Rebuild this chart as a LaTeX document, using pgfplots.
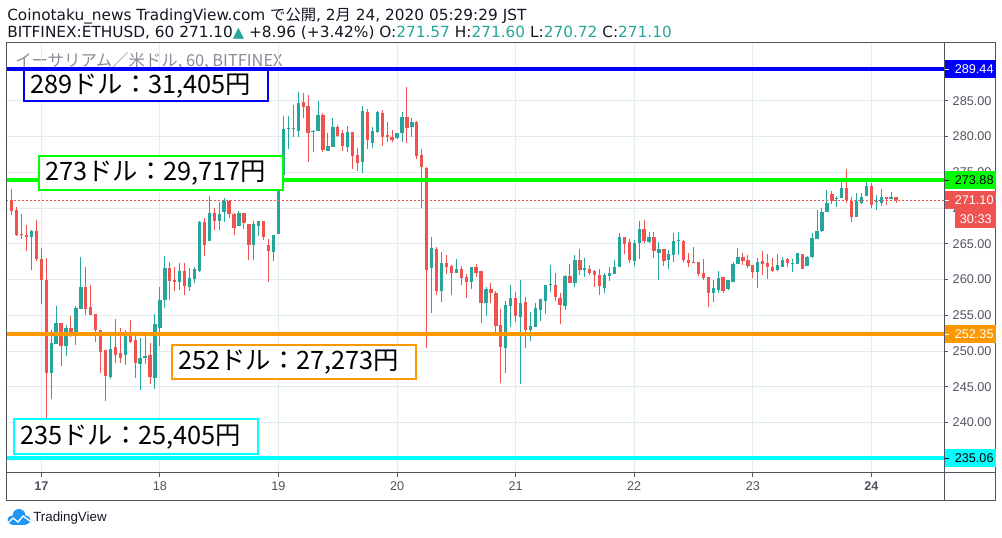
\documentclass[border=0pt]{standalone}
\usepackage{fontspec}
\usepackage{pgfplots}
\usepackage{pgfplotstable}
\pgfplotsset{compat=1.18}
\setmainfont{Liberation Sans}
\newfontfamily\cjk{Noto Sans CJK JP}
\newfontfamily\dejavu{DejaVu Sans}
\definecolor{upc}{HTML}{26A69A}
\definecolor{dnc}{HTML}{EF5350}
\definecolor{gridc}{HTML}{E1ECF2}
\definecolor{framec}{HTML}{50535E}
\definecolor{txtc}{HTML}{50535E}
\definecolor{headc}{HTML}{131722}
\definecolor{lblue}{HTML}{0000FF}
\definecolor{lgreen}{HTML}{00FF00}
\definecolor{lorange}{HTML}{FF9800}
\definecolor{lcyan}{HTML}{00FFFF}
\definecolor{tvblue}{HTML}{2196F3}
\definecolor{wmc}{HTML}{8A8D96}

\pgfplotstableread{
t o h l c
-2 265.91 266.98 261.30 266.84
2 246.89 253.00 243.26 251.07
3 250.93 256.24 250.93 253.86
5 250.70 253.63 249.31 253.17
7 252.33 256.28 250.84 255.96
8 255.91 263.16 255.91 259.03
14 246.38 252.33 246.15 250.33
17 249.45 253.00 248.05 252.56
20 248.19 251.86 244.56 249.07
21 248.98 252.19 248.14 249.26
23 246.19 255.12 244.66 253.72
24 253.21 258.98 250.70 257.21
25 257.12 263.35 256.00 261.68
28 259.72 262.37 258.55 261.21
30 258.93 261.58 258.46 260.18
31 260.04 261.72 259.58 261.49
32 261.26 268.24 261.00 268.10
34 265.40 271.69 265.40 269.27
36 268.24 270.90 266.94 269.18
37 269.41 271.37 268.10 271.04
40 267.55 269.60 267.55 269.36
43 264.84 268.24 262.75 267.78
44 267.55 268.24 266.10 268.20
47 263.82 266.24 262.65 266.24
48 266.33 276.26 266.33 274.63
49 274.63 282.88 274.50 281.06
50 281.10 282.88 278.20 281.20
51 281.00 284.40 279.90 281.10
52 280.83 286.19 279.90 284.65
55 280.60 280.92 277.90 280.70
56 280.83 284.97 280.83 283.02
58 278.00 280.55 278.00 278.68
59 278.59 282.55 278.59 281.29
62 278.59 281.48 277.90 280.69
65 276.49 284.28 274.96 283.58
67 279.15 281.38 278.36 280.83
68 280.69 283.58 280.46 283.44
72 279.76 280.55 279.62 280.46
73 280.46 283.48 279.29 282.69
75 281.29 282.55 279.99 281.99
79 261.58 266.01 255.38 264.38
81 258.45 263.91 256.92 262.37
84 260.98 262.88 260.97 261.50
87 259.71 261.81 258.69 261.72
90 256.78 258.92 254.91 258.69
94 250.49 257.01 246.99 256.45
95 256.31 259.25 253.42 257.38
97 254.82 259.95 245.36 256.68
99 252.96 255.43 251.46 253.52
100 253.42 256.68 253.42 255.98
101 255.75 257.29 254.26 257.29
102 257.06 259.25 255.19 259.25
103 259.25 262.04 258.31 259.39
106 256.31 260.65 255.75 260.51
108 259.57 263.44 258.92 262.74
110 261.35 262.97 260.41 261.58
114 258.88 260.97 258.17 260.65
115 260.51 261.81 259.85 260.97
116 260.79 262.74 260.79 261.81
117 261.81 266.47 261.81 266.00
120 262.65 265.54 261.95 265.17
121 265.07 268.20 262.88 267.08
123 265.31 266.61 265.17 266.00
125 263.77 265.21 259.95 264.23
127 262.74 264.14 261.49 263.58
128 263.44 266.56 262.51 265.40
129 265.45 266.61 263.44 265.54
136 258.17 259.95 256.92 258.78
137 258.55 261.20 258.17 260.18
139 258.64 259.95 258.55 259.95
140 259.72 262.51 259.72 262.18
141 262.18 264.37 262.18 263.21
145 261.11 262.97 258.87 262.46
149 261.40 263.58 261.25 262.00
150 261.81 263.21 261.72 262.74
152 262.18 262.83 261.02 262.32
153 262.18 263.68 262.18 263.68
155 261.90 263.30 261.90 263.21
156 263.12 266.47 262.97 265.77
157 265.68 269.73 265.68 266.84
158 266.84 269.97 266.70 269.50
159 269.50 272.53 269.50 270.76
161 271.30 271.69 270.20 271.40
162 271.36 274.02 271.36 272.76
165 268.80 272.15 268.80 271.04
166 270.76 272.15 270.52 271.60
167 271.69 273.69 271.69 273.09
169 270.80 271.83 269.73 270.90
170 270.76 272.62 270.34 271.50
172 271.32 272.20 271.22 271.50
}\uptable

\pgfplotstableread{
t o h l c
-6 271.07 272.70 268.98 269.53
-5 269.77 270.14 266.10 266.19
-4 266.42 269.21 265.72 266.19
-3 266.28 267.68 263.95 265.91
-1 266.84 268.37 262.56 262.93
0 262.93 264.42 256.65 259.91
1 259.91 263.02 240.40 246.89
4 253.86 253.86 247.91 250.70
6 253.17 254.89 251.96 252.19
9 259.03 261.77 255.03 255.91
10 256.10 259.30 255.03 255.03
11 255.12 255.12 251.26 252.93
12 252.93 253.00 246.98 249.91
13 250.10 250.10 243.03 246.52
15 250.52 254.42 248.38 249.45
16 249.68 253.26 248.38 248.98
18 252.47 254.28 251.07 251.26
19 251.50 252.47 246.19 248.28
22 249.40 251.07 245.45 246.38
26 261.58 262.42 257.15 259.86
27 259.95 261.82 258.46 259.72
29 261.21 262.37 257.85 259.16
33 268.10 268.57 263.35 264.84
35 269.27 269.97 266.94 268.24
38 271.04 271.13 268.57 269.18
39 269.18 269.36 266.24 267.27
41 269.27 269.36 267.03 267.96
42 267.78 267.78 262.75 264.84
45 268.20 268.24 265.50 265.98
46 264.84 265.63 259.63 264.05
53 284.79 286.05 282.55 284.18
54 284.28 285.81 276.49 280.55
57 283.02 283.25 277.90 278.12
60 281.38 281.62 279.99 280.08
61 280.55 280.92 278.03 278.68
63 280.69 280.69 275.42 277.29
64 277.43 278.36 275.24 276.35
66 283.48 283.81 278.22 279.52
69 283.34 283.72 278.68 279.99
70 280.22 281.99 279.29 279.90
71 279.90 280.92 279.29 279.52
74 282.69 286.89 279.15 281.15
76 281.99 282.22 276.82 277.29
77 277.43 278.22 269.97 275.70
78 275.56 275.70 250.40 261.35
80 264.23 264.51 257.85 258.45
82 262.37 263.44 260.79 261.81
83 261.90 262.04 257.85 260.97
85 261.48 261.95 259.25 260.27
86 260.32 260.79 257.48 259.71
88 261.72 262.18 260.41 260.97
89 261.20 261.20 253.98 256.78
91 258.69 259.48 256.78 258.08
92 258.08 258.41 252.58 253.56
93 253.66 255.89 245.59 250.63
96 257.38 258.22 254.12 254.91
98 256.87 257.52 250.39 252.96
104 259.25 260.88 257.06 257.62
105 257.48 258.08 253.80 256.45
107 260.51 262.18 259.57 259.57
109 262.74 264.23 260.65 261.35
111 261.44 262.04 260.65 260.88
112 261.20 261.35 259.02 260.65
113 260.65 261.49 257.85 259.11
118 266.00 266.00 263.58 264.98
119 265.31 265.68 262.28 262.74
122 267.08 268.34 265.07 265.45
124 266.00 266.61 262.97 264.05
126 264.23 264.23 261.95 262.65
130 265.40 265.54 262.51 262.74
131 262.74 263.68 261.81 262.28
132 262.51 264.51 262.28 262.37
133 262.42 262.51 260.51 260.79
134 260.88 262.83 259.95 260.18
135 260.32 260.32 256.22 258.17
138 260.32 260.41 258.17 258.45
142 263.21 263.68 262.04 262.65
143 262.74 263.44 261.58 261.90
144 262.04 262.04 260.18 261.11
146 262.65 264.05 260.65 262.18
147 262.37 263.58 260.04 261.72
148 261.81 262.97 261.11 261.25
151 262.88 262.97 261.72 262.28
154 263.54 263.54 261.44 261.44
160 272.01 272.43 270.57 271.04
163 272.76 275.46 270.66 271.13
164 271.04 271.50 268.01 268.80
168 273.09 273.46 269.97 270.43
171 271.50 271.60 270.43 271.22
173 271.57 271.60 270.72 271.10
}\dntable

\begin{document}
\begin{tikzpicture}
\begin{scope}[x=0.75pt,y=-0.75pt]
\path (0,0) rectangle (1002,537);
% header
\node[anchor=base west, inner sep=0, text=headc, font=\dejavu\fontsize{11.5}{13}\selectfont] at (7,20.5)
  {Coinotaku\_news TradingView.com {\cjk で公開}, 2{\cjk 月} 24, 2020 05:29:29 JST};
\node[anchor=base west, inner sep=0, text=headc, font=\dejavu\fontsize{11.5}{13}\selectfont] at (7,37.5)
  {BITFINEX:ETHUSD, 60 271.10{\textcolor{upc}{\fontsize{11}{12}\selectfont ▲}} +8.96 (+3.42\%) O:\textcolor{upc}{271.57} H:\textcolor{upc}{271.60} L:\textcolor{upc}{270.72} C:\textcolor{upc}{271.10}};
% watermark
\node[anchor=west, inner sep=0, text=wmc, font=\cjk\fontsize{12.3}{13}\selectfont] at (15,61)
  {イーサリアム／米ドル, 60, BITFINEX};
\end{scope}

\begin{axis}[
  at={(4.5pt,-31.5pt)}, anchor=north west,
  scale only axis, width=703.5pt, height=323.0pt,
  xmin=-7.15, xmax=182.7, ymin=233.0, ymax=293.22,
  axis line style={draw=framec, line width=0.75pt},
  xtick={0,24,48,72,96,120,144,168},
  xticklabels={\textbf{17},18,19,20,21,22,23,\textbf{24}},
  ytick={240,245,...,285},
  xtick pos=bottom, ytick pos=right, yticklabel pos=right,
  tick align=outside, major tick length=3pt,
  tick style={draw=framec, line width=0.75pt},
  grid=major, grid style={draw=gridc, line width=0.75pt},
  /pgf/number format/assume math mode=true,
  ticklabel style={font=\fontsize{9.5}{10}\selectfont, text=txtc},
  yticklabel style={/pgf/number format/fixed, /pgf/number format/fixed zerofill, /pgf/number format/precision=2, /pgf/number format/1000 sep={}},
]
% wicks
\addplot[forget plot, draw=none, mark=none, error bars/.cd, y dir=plus, y explicit, error mark=none,
  error bar style={draw=upc, line width=0.75pt}]
  table[x=t, y=l, y error plus expr=\thisrow{h}-\thisrow{l}] {\uptable};
\addplot[forget plot, draw=none, mark=none, error bars/.cd, y dir=plus, y explicit, error mark=none,
  error bar style={draw=dnc, line width=0.75pt}]
  table[x=t, y=l, y error plus expr=\thisrow{h}-\thisrow{l}] {\dntable};
% bodies
\addplot[forget plot, draw=none, mark=none, error bars/.cd, y dir=plus, y explicit, error mark=none,
  error bar style={draw=upc, line width=2.5pt}]
  table[x=t, y=o, y error plus expr={max(\thisrow{c}-\thisrow{o},0.14)}] {\uptable};
\addplot[forget plot, draw=none, mark=none, error bars/.cd, y dir=plus, y explicit, error mark=none,
  error bar style={draw=dnc, line width=2.5pt}]
  table[x=t, y=c, y error plus expr={max(\thisrow{o}-\thisrow{c},0.14)}] {\dntable};
% price line
\addplot[forget plot, dnc, line width=0.75pt, dash pattern=on 1.5pt off 1.5pt] coordinates {(-7.15,271.10) (182.7,271.10)};
% level lines
\addplot[forget plot, lblue, line width=3pt] coordinates {(-7.15,289.44) (182.7,289.44)};
\addplot[forget plot, lgreen, line width=3pt] coordinates {(-7.15,273.88) (182.7,273.88)};
\addplot[forget plot, lorange, line width=3pt] coordinates {(-7.15,252.35) (182.7,252.35)};
\addplot[forget plot, lcyan, line width=3pt] coordinates {(-7.15,235.06) (182.7,235.06)};
\end{axis}

\begin{scope}[x=0.75pt,y=-0.75pt]
% outer frame
\draw[framec, line width=0.75pt] (6,42) rectangle (995,500);
\draw[framec, line width=0.75pt] (944,42) -- (944,500);
\draw[framec, line width=0.75pt] (6,472.7) -- (995,472.7);
% price axis boxes
\tikzset{pbox/.style={anchor=west, inner sep=0, minimum width=38.25pt, minimum height=13.5pt, font=\fontsize{9.5}{10}\selectfont}}
\node[pbox, fill=lblue, text=white] at (944.4,69) {\hspace*{6pt}289.44\hfill};
\node[pbox, fill=lgreen, text=black] at (944.4,180.3) {\hspace*{6pt}273.88\hfill};
\node[pbox, fill=dnc, text=white] at (944.4,200.2) {\hspace*{6pt}271.10\hfill};
\node[anchor=north west, inner sep=0, minimum width=30.75pt, minimum height=14pt, fill=dnc, text=white, font=\fontsize{9.5}{10}\selectfont] at (955,209.2) {30:33};
\node[pbox, fill=lorange, text=white] at (944.4,334.3) {\hspace*{6pt}252.35\hfill};
\node[pbox, fill=lcyan, text=black] at (944.4,458) {\hspace*{6pt}235.06\hfill};
\foreach \yy/\cc in {69/white,180.3/black,200.2/white,334.3/white,458/black}
  \draw[\cc, line width=0.75pt] (944.5,\yy) -- (948.5,\yy);
% annotation boxes
\tikzset{abox/.style={fill=white, line width=1.6pt}, atxt/.style={anchor=west, inner sep=0, font=\cjk\fontsize{19}{21}\selectfont, text=black}}
\draw[abox, draw=lblue] (24,70) rectangle (268,101);
\node[atxt] at (30,86) {289ドル：31,405円};
\draw[abox, draw=lgreen] (39,156) rectangle (283,190);
\node[atxt] at (45,173.5) {273ドル：29,717円};
\draw[abox, draw=lorange] (172,345) rectangle (416,379);
\node[atxt] at (178,362.5) {252ドル：27,273円};
\draw[abox, draw=lcyan] (14,419) rectangle (258,454);
\node[atxt] at (20,437) {235ドル：25,405円};
% footer
\fill[tvblue] (12,520) circle (4.5);
\fill[tvblue] (19,515.5) circle (6.5);
\fill[tvblue] (26,520) circle (4.5);
\fill[tvblue] (12,520) rectangle (26,524.5);
\draw[white, line width=1pt] (8,523) -- (13,518) -- (18,522) -- (23,516) -- (30,521);
\node[anchor=west, inner sep=0, text=headc, font=\fontsize{10}{12}\selectfont] at (33,518) {TradingView};
\end{scope}
\end{tikzpicture}
\end{document}
